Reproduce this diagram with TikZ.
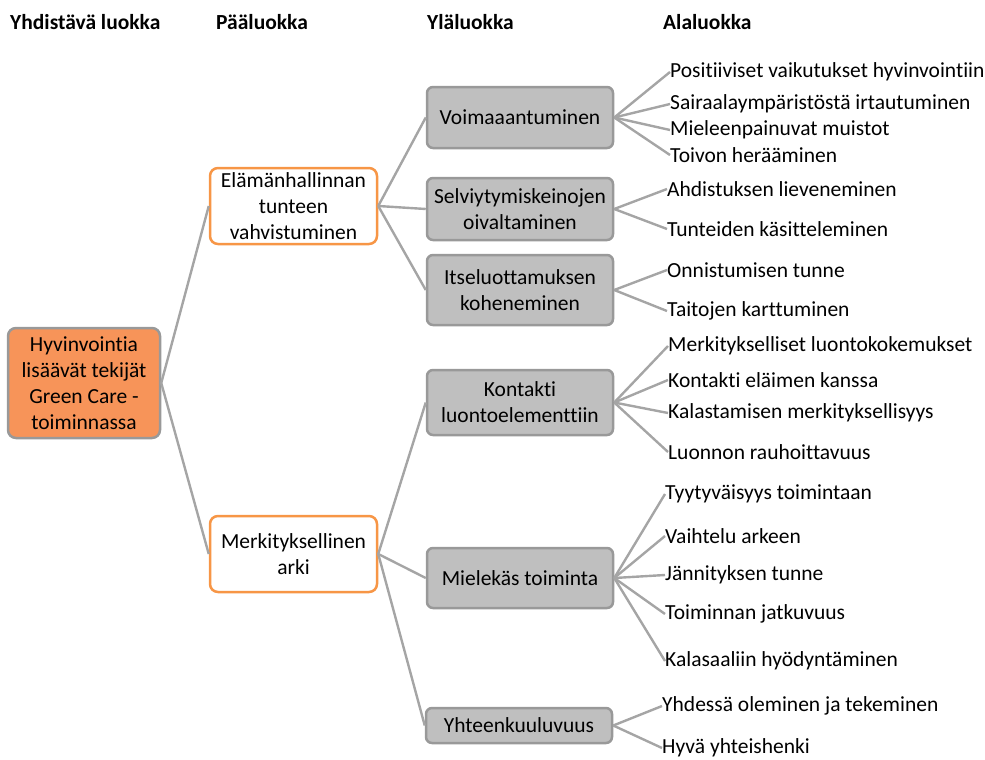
\documentclass[tikz,border=0pt]{standalone}
\usepackage{fontspec}
\setmainfont{Carlito}[Ligatures=NoCommon]
\definecolor{rootfill}{HTML}{F79459}
\definecolor{accent}{HTML}{F79646}
\definecolor{boxfill}{HTML}{BFBFBF}
\definecolor{boxline}{HTML}{999999}
\definecolor{link}{HTML}{A5A5A5}
\begin{document}
\begin{tikzpicture}[x=1pt,y=-1pt,
  font=\fontsize{21.5}{26}\selectfont,
  header/.style={anchor=west,font=\fontsize{21.5}{26}\selectfont\bfseries,inner sep=0pt},
  rootbox/.style={draw=boxline,fill=rootfill,line width=2.5pt,rounded corners=8pt,align=center,minimum width=152pt,minimum height=110pt,inner sep=2pt},
  mainbox/.style={draw=accent,fill=white,line width=2.5pt,rounded corners=8pt,align=center,minimum width=167pt,minimum height=76pt,inner sep=2pt},
  subbox/.style={draw=boxline,fill=boxfill,line width=2.5pt,rounded corners=6pt,align=center,minimum width=186pt,inner sep=2pt},
  leaf/.style={anchor=west,inner sep=0pt},
  conn/.style={draw=link,line width=2.4pt}]
\useasboundingbox (0,0) rectangle (985,760);

% column headings
\node[header] (h1) at (10,22) {Yhdistävä luokka};
\node[header] (h2) at (216,22) {Pääluokka};
\node[header] (h3) at (427,22) {Yläluokka};
\node[header] (h4) at (663,22) {Alaluokka};

% root
\node[rootbox] (root) at (84,383) {Hyvinvointia\\lisäävät tekijät\\Green Care -\\toiminnassa};

% main categories
\node[mainbox] (m1) at (293.5,206) {Elämänhallinnan\\tunteen\\vahvistuminen};
\node[mainbox] (m2) at (293.5,554) {Merkityksellinen\\arki};

% upper categories
\node[subbox,minimum height=61pt] (s1) at (520,117.5) {Voimaaantuminen};
\node[subbox,minimum height=62pt] (s2) at (520,209) {Selviytymiskeinojen\\oivaltaminen};
\node[subbox,minimum height=70pt] (s3) at (520,290) {Itseluottamuksen\\koheneminen};
\node[subbox,minimum height=65pt] (s4) at (520,402.5) {Kontakti\\luontoelementtiin};
\node[subbox,minimum height=60pt] (s5) at (520,578) {Mielekäs toiminta};
\node[subbox,minimum height=35pt] (s6) at (519,725.5) {Yhteenkuuluvuus};

% subcategories
\node[leaf] (l1)  at (670,72)  {Positiiviset vaikutukset hyvinvointiin};
\node[leaf] (l2)  at (670,104) {Sairaalaympäristöstä irtautuminen};
\node[leaf] (l3)  at (670,130) {Mieleenpainuvat muistot};
\node[leaf] (l4)  at (670,155) {Toivon herääminen};
\node[leaf] (l5)  at (667,189) {Ahdistuksen lieveneminen};
\node[leaf] (l6)  at (667,229) {Tunteiden käsitteleminen};
\node[leaf] (l7)  at (667,270) {Onnistumisen tunne};
\node[leaf] (l8)  at (667,311) {Taitojen karttuminen};
\node[leaf] (l9)  at (668,346) {Merkitykselliset luontokokemukset};
\node[leaf] (l10) at (668,380) {Kontakti eläimen kanssa};
\node[leaf] (l11) at (668,413) {Kalastamisen merkityksellisyys};
\node[leaf] (l12) at (668,452) {Luonnon rauhoittavuus};
\node[leaf] (l13) at (665,494) {Tyytyväisyys toimintaan};
\node[leaf] (l14) at (665,536) {Vaihtelu arkeen};
\node[leaf] (l15) at (665,575) {Jännityksen tunne};
\node[leaf] (l16) at (665,614) {Toiminnan jatkuvuus};
\node[leaf] (l17) at (665,661) {Kalasaaliin hyödyntäminen};
\node[leaf] (l18) at (662,706) {Yhdessä oleminen ja tekeminen};
\node[leaf] (l19) at (662,748) {Hyvä yhteishenki};

% connectors
\begin{scope}[on background layer/.try]
\foreach \a/\b in {root/m1,root/m2,m1/s1,m1/s2,m1/s3,m2/s4,m2/s5,m2/s6,
  s1/l1,s1/l2,s1/l3,s1/l4,s2/l5,s2/l6,s3/l7,s3/l8,
  s4/l9,s4/l10,s4/l11,s4/l12,s5/l13,s5/l14,s5/l15,s5/l16,s5/l17,s6/l18,s6/l19}
  \draw[conn] (\a.east) -- (\b.west);
\end{scope}
\end{tikzpicture}
\end{document}
